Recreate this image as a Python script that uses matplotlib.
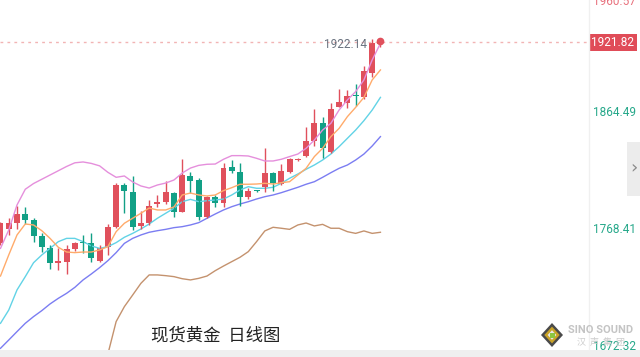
import numpy as np
import matplotlib.pyplot as plt
import matplotlib.transforms as mtransforms
from matplotlib.patches import Rectangle, Polygon

plt.rcParams['font.family'] = ['Roboto', 'Noto Sans CJK SC', 'DejaVu Sans']

# daily candles (oldest -> newest)
opens = [1756.9, 1768.4, 1773.4, 1780.7, 1776.1, 1762.9, 1752.8, 1740.8, 1741.9, 1752.0,
         1757.2, 1757.5, 1742.7, 1753.7, 1770.6, 1804.8, 1799.1, 1771.4, 1773.4, 1789.2,
         1791.1, 1798.0, 1782.9, 1812.2, 1808.9, 1778.8, 1794.7, 1789.8, 1819.8, 1815.7,
         1795.2, 1800.4, 1802.9, 1814.9, 1805.6, 1815.7, 1825.0, 1828.9, 1840.9, 1856.0,
         1832.2, 1869.1, 1872.4, 1877.8, 1876.7, 1896.4, 1920.9]
highs = [1774.7, 1777.5, 1787.6, 1787.0, 1777.5, 1765.1, 1755.6, 1752.8, 1755.6, 1758.3,
         1763.8, 1765.1, 1755.6, 1772.5, 1806.2, 1806.7, 1812.5, 1783.5, 1792.5, 1796.6,
         1808.1, 1799.3, 1826.1, 1815.7, 1810.3, 1795.8, 1796.6, 1822.6, 1825.3, 1822.6,
         1802.1, 1800.7, 1834.9, 1815.7, 1822.0, 1826.7, 1827.2, 1852.7, 1866.9, 1860.9,
         1871.8, 1883.3, 1882.8, 1887.7, 1902.4, 1924.3, 1923.5]
lows = [1755.6, 1763.8, 1768.4, 1772.8, 1758.3, 1750.1, 1735.6, 1735.1, 1731.5, 1750.7,
        1748.7, 1741.9, 1741.4, 1747.4, 1769.3, 1781.6, 1767.9, 1768.4, 1772.0, 1787.0,
        1789.0, 1778.8, 1782.4, 1798.5, 1776.1, 1777.5, 1787.0, 1786.5, 1814.4, 1787.6,
        1793.0, 1799.3, 1799.3, 1799.9, 1804.8, 1814.4, 1824.8, 1828.1, 1837.1, 1826.7,
        1831.3, 1868.5, 1868.3, 1869.6, 1875.6, 1893.7, 1918.3]
closes = [1773.4, 1773.4, 1780.7, 1776.1, 1763.2, 1753.7, 1740.5, 1742.4, 1752.6, 1756.9,
          1756.9, 1744.6, 1752.8, 1770.6, 1804.8, 1800.2, 1770.6, 1773.4, 1787.6, 1791.1,
          1799.1, 1782.9, 1813.0, 1808.4, 1778.8, 1795.2, 1789.8, 1819.0, 1816.3, 1795.2,
          1800.2, 1800.2, 1814.9, 1806.2, 1816.6, 1825.9, 1825.9, 1840.9, 1856.0, 1834.9,
          1867.2, 1873.2, 1877.8, 1877.6, 1898.3, 1921.6, 1921.82]

# indicator lines
pink_line = [1752.8, 1767.9, 1788.4, 1801.3, 1806.0, 1809.5, 1813.0, 1816.5, 1820.0, 1823.0,
             1823.7, 1822.5, 1820.5, 1815.2, 1811.1, 1812.2, 1807.3, 1804.0, 1802.3, 1804.8,
             1806.4, 1808.9, 1814.6, 1818.7, 1820.9, 1821.8, 1822.0, 1825.9, 1828.9, 1828.9,
             1828.6, 1826.7, 1824.5, 1824.5, 1825.9, 1828.1, 1830.2, 1834.9, 1841.7, 1849.9,
             1855.4, 1866.4, 1874.6, 1881.4, 1891.0, 1907.4, 1921.0]
orange_line = [1730.1, 1747.4, 1763.8, 1772.8, 1772.0, 1767.3, 1761.0, 1753.7, 1749.8, 1749.3,
               1749.8, 1749.8, 1751.5, 1754.2, 1766.5, 1773.4, 1777.5, 1781.6, 1785.9, 1784.3,
               1784.3, 1786.8, 1796.6, 1798.2, 1796.6, 1795.8, 1796.6, 1800.2, 1802.6, 1805.4,
               1805.4, 1805.6, 1806.2, 1805.6, 1806.7, 1807.5, 1813.0, 1818.5, 1828.1, 1834.9,
               1844.5, 1851.3, 1860.9, 1868.5, 1876.7, 1891.0, 1899.2]
cyan_line = [1691.3, 1702.2, 1718.7, 1729.6, 1741.0, 1747.4, 1752.8, 1758.3, 1761.0, 1761.0,
             1758.3, 1754.8, 1752.8, 1754.2, 1757.5, 1761.9, 1765.1, 1768.7, 1772.8, 1777.5,
             1781.6, 1785.7, 1791.1, 1793.0, 1791.1, 1791.9, 1792.5, 1793.3, 1796.6, 1800.7,
             1803.4, 1802.1, 1802.1, 1802.9, 1806.2, 1810.3, 1813.8, 1817.7, 1821.2, 1825.3,
             1830.2, 1836.3, 1843.1, 1849.9, 1857.6, 1866.3, 1876.7]
blue_line = [1670.8, 1677.6, 1684.5, 1691.3, 1696.8, 1701.7, 1707.2, 1711.8, 1715.9, 1720.8,
             1726.9, 1731.8, 1737.0, 1742.7, 1749.3, 1756.9, 1761.0, 1763.8, 1766.0, 1767.3,
             1768.4, 1769.8, 1770.6, 1772.0, 1773.9, 1777.5, 1781.0, 1784.3, 1787.0, 1789.2,
             1791.1, 1793.3, 1795.2, 1796.6, 1798.5, 1800.7, 1802.9, 1805.4, 1807.5, 1811.1,
             1814.9, 1818.5, 1821.2, 1825.3, 1830.2, 1836.8, 1844.5]
brown_line = [np.nan] * 13 + [
             1666.0, 1692.7, 1705.0, 1714.5, 1724.1, 1731.0, 1731.0, 1730.4, 1729.6, 1727.9,
             1726.9, 1728.2, 1730.1, 1734.5, 1738.3, 1741.9, 1745.5, 1750.1, 1758.3, 1767.1,
             1770.1, 1769.3, 1768.4, 1772.0, 1773.6, 1771.2, 1772.5, 1769.3, 1769.3, 1766.5,
             1765.1, 1767.1, 1765.1, 1766.0]

axis_prices = [1960.57, 1864.49, 1768.41, 1672.32]
axis_colors = ['#e8707c', '#26a88a', '#26a88a', '#26a88a']
last_price = 1921.82
high_label = '1922.14'
title = '现货黄金  日线图'

up_color = '#e0505c'
down_color = '#12a086'

fig = plt.figure(figsize=(6.4, 3.57), dpi=100)
ax = fig.add_axes([0, 7 / 357, 588 / 640, 350 / 357])
ax.set_xlim(-0.06, 71.13)
ax.set_ylim(1669.4, 1956.6)
ax.axis('off')

x = np.arange(len(opens))
o = np.array(opens)
c = np.array(closes)
colors = [up_color if cc >= oo else down_color for oo, cc in zip(o, c)]

# lines under the candles
ax.plot(x, brown_line, color='#c4926e', lw=1.0)
ax.plot(x, blue_line, color='#7b7df2', lw=1.0)
ax.plot(x, cyan_line, color='#62d3e6', lw=1.0)

ax.vlines(x, lows, highs, colors=colors, lw=1.0)
body_bottom = np.minimum(o, c)
body_height = np.maximum(np.abs(c - o), 0.9)
ax.bar(x, body_height, bottom=body_bottom, width=0.72, color=colors, linewidth=0)

ax.plot(x, orange_line, color='#ffab6b', lw=1.0)
ax.plot(x, pink_line, color='#e58fdc', lw=1.0)

# last price dotted line + dot
ax.axhline(last_price, color='#f2b4b4', lw=1.0, ls=(0, (2, 3)))
ax.plot([x[-1]], [last_price + 1.5], 'o', color=up_color, ms=4.5)
ax.text(44.4, 1920.2, high_label, ha='right', va='center', fontsize=8.5, color='#6b7380')

# right price scale (top label sits at the clipped top edge, as in the source)
ytrans = ax.get_yaxis_transform()
y_top = ax.get_ylim()[1]
for p, col in zip(axis_prices, axis_colors):
    ax.text(636 / 588, min(p, y_top - 1.5), f'{p:.2f}', transform=ytrans, ha='right',
            va='center', fontsize=8.5, color=col, clip_on=False)

bt = mtransforms.blended_transform_factory(fig.transFigure, ax.transData)
fig.add_artist(Rectangle((589 / 640, last_price - 7.2), 48 / 640, 14.4, transform=bt,
                         facecolor='#e04c58', edgecolor='none'))
fig.text(613 / 640, last_price, f'{last_price:.2f}', transform=bt, ha='center', va='center',
         fontsize=8.5, color='white')

# frame bits
fig.add_artist(plt.Line2D([588.5 / 640] * 2, [7 / 357, 1], color='#f0f0f0', lw=1))
fig.add_artist(Rectangle((0, 0), 1, 7 / 357, transform=fig.transFigure,
                         facecolor='#efefef', edgecolor='none'))
fig.add_artist(Rectangle((627 / 640, 1 - 196 / 357), 13 / 640, 54 / 357,
                         transform=fig.transFigure, facecolor='#ececec', edgecolor='none'))
fig.text(634 / 640, 1 - 168 / 357, '›', ha='center', va='center', fontsize=13,
         color='#8a8a8a', family='DejaVu Sans')

# title
fig.text(216 / 640, 1 - 336 / 357, title, ha='center', va='center', fontsize=12.5,
         color='#222222', family=['Noto Sans CJK SC', 'DejaVu Sans'])

# logo watermark
cx, cy = 552 / 640, 1 - 335 / 357
dx, dy = 11 / 640, 12 / 357
fig.add_artist(Polygon([[cx - dx, cy], [cx, cy + dy], [cx + dx, cy], [cx, cy - dy]],
                       transform=fig.transFigure, facecolor='#4a4a4a', edgecolor='none'))
fig.add_artist(Polygon([[cx - dx * 0.7, cy], [cx, cy + dy * 0.7], [cx + dx * 0.7, cy], [cx, cy - dy * 0.7]],
                       transform=fig.transFigure, facecolor='#c9a227', edgecolor='none'))
fig.add_artist(Polygon([[cx - dx * 0.4, cy], [cx, cy + dy * 0.4], [cx + dx * 0.4, cy], [cx, cy - dy * 0.4]],
                       transform=fig.transFigure, facecolor='#e8e8e8', edgecolor='none'))
fig.add_artist(Rectangle((cx - 2.5 / 640, cy - 2.5 / 357), 5 / 640, 5 / 357,
                         transform=fig.transFigure, facecolor='#8cc63f', edgecolor='none'))
fig.text(601 / 640, 1 - 330 / 357, 'SINO SOUND', ha='center', va='center', fontsize=8,
         color='#c4c4c4', weight='bold')
fig.text(601 / 640, 1 - 342 / 357, '汉  声  集  团', ha='center', va='center', fontsize=6.5,
         color='#cccccc', family=['Noto Sans CJK SC', 'DejaVu Sans'])

fig.savefig('out.png', dpi=100)
